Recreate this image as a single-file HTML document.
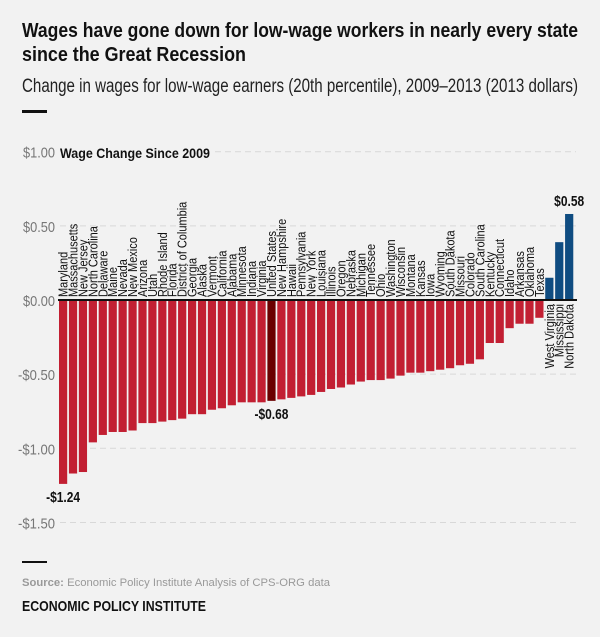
<!DOCTYPE html>
<html><head><meta charset="utf-8"><style>
body{margin:0;background:#f2f2f2;}
#wrap{position:relative;width:600px;height:637px;background:#f2f2f2;font-family:"Liberation Sans Narrow","Liberation Sans",sans-serif;overflow:hidden}
</style></head><body>
<div id="wrap">
<svg id="c" width="600" height="637" xmlns="http://www.w3.org/2000/svg">
<text x="22" y="37" font-size="20" font-weight="bold" fill="#111" textLength="556" lengthAdjust="spacingAndGlyphs">Wages have gone down for low-wage workers in nearly every state</text>
<text x="22" y="61" font-size="20" font-weight="bold" fill="#111" textLength="224" lengthAdjust="spacingAndGlyphs">since the Great Recession</text>
<text x="22" y="92" font-size="19" fill="#222" textLength="556" lengthAdjust="spacingAndGlyphs">Change in wages for low-wage earners (20th percentile), 2009–2013 (2013 dollars)</text>
<rect x="22" y="110" width="25" height="3" fill="#111"/>
<g id="grid"></g>
<g id="bars"></g>
<g id="labels"></g>
<text x="60" y="158" font-size="14" font-weight="bold" fill="#111" textLength="150" lengthAdjust="spacingAndGlyphs">Wage Change Since 2009</text>
<rect x="22" y="561" width="25" height="2" fill="#111"/>
<text x="22" y="586" font-size="11" fill="#999" textLength="308" lengthAdjust="spacingAndGlyphs"><tspan font-weight="bold">Source:</tspan> Economic Policy Institute Analysis of CPS-ORG data</text>
<text x="22" y="611" font-size="15" font-weight="bold" fill="#111" textLength="184" lengthAdjust="spacingAndGlyphs">ECONOMIC POLICY INSTITUTE</text>
</svg>
</div>
<script>
const states=["Maryland","Massachusetts","New Jersey","North Carolina","Delaware","Maine","Nevada","New Mexico","Arizona","Utah","Rhode Island","Florida","District of Columbia","Georgia","Alaska","Vermont","California","Alabama","Minnesota","Indiana","Virginia","United States","New Hampshire","Hawaii","Pennsylvania","New York","Louisiana","Illinois","Oregon","Nebraska","Michigan","Tennessee","Ohio","Washington","Wisconsin","Montana","Kansas","Iowa","Wyoming","South Dakota","Missouri","Colorado","South Carolina","Kentucky","Connecticut","Idaho","Arkansas","Oklahoma","Texas","West Virginia","Mississippi","North Dakota"];
const values=[-1.24,-1.17,-1.16,-0.96,-0.91,-0.89,-0.89,-0.88,-0.83,-0.83,-0.82,-0.81,-0.80,-0.77,-0.77,-0.74,-0.73,-0.71,-0.69,-0.69,-0.69,-0.68,-0.67,-0.66,-0.65,-0.64,-0.62,-0.60,-0.59,-0.57,-0.55,-0.54,-0.54,-0.53,-0.51,-0.49,-0.49,-0.48,-0.47,-0.46,-0.44,-0.43,-0.40,-0.29,-0.29,-0.19,-0.16,-0.16,-0.12,0.15,0.39,0.58];
const tickValues=[1,0.5,0,-0.5,-1,-1.5];
const tickLabels=["$1.00","$0.50","$0.00","-$0.50","-$1.00","-$1.50"];
const NS="http://www.w3.org/2000/svg";
const y0=300, ppd=148.3, x0=59, step=(575-59)/52, bw=8.2;
const Y=v=>y0-v*ppd;
const X=i=>x0+i*step;
function mk(t,a,p){const e=document.createElementNS(NS,t);for(const k in a)e.setAttribute(k,a[k]);p.appendChild(e);return e;}
const grid=document.getElementById('grid'),bars=document.getElementById('bars'),labels=document.getElementById('labels');
tickValues.forEach((v,i)=>{
  const neg=tickLabels[i][0]==='-';
  const t=mk('text',{x:55,y:Y(v)+6,'font-size':15,fill:'#777','text-anchor':'end',textLength:neg?37:32,lengthAdjust:'spacingAndGlyphs'},grid);
  t.textContent=tickLabels[i];
  
  
  if(v!==0){const l=mk('line',{x1:v===1?215:60,x2:576,y1:Y(v),y2:Y(v),stroke:'#d8d8d8','stroke-width':1,'stroke-dasharray':'6,4'},grid);
  
  }
});
values.forEach((v,i)=>{
  const col=v>0?'#0f4c81':(states[i]==="United States"?'#6b0000':'#c21f32');
  const r=mk('rect',{x:X(i),y:Math.min(Y(v),y0),width:bw,height:Math.abs(Y(v)-y0),fill:col},bars);
  
  
  const cx=X(i)+bw/2+4.5;
  const ly=v>0?y0+4:y0-3;
  const t=mk('text',{x:cx,y:ly,'font-size':12.5,fill:'#111','text-anchor':v>0?'end':'start',transform:`rotate(-90 ${cx} ${ly}) translate(${cx} ${ly}) scale(0.88 1) translate(${-cx} ${-ly})`},labels);
  t.textContent=states[i];
  
  
});
mk('line',{x1:58,x2:577,y1:y0,y2:y0,stroke:'#111','stroke-width':2},bars);
function ann(i,txt,above){
  const v=values[i];const t=mk('text',{x:X(i)+bw/2,y:above?Y(v)-8:Y(v)+18,'font-size':15,'font-weight':'bold',fill:'#111','text-anchor':'middle',textLength:txt[0]==='-'?34:30,lengthAdjust:'spacingAndGlyphs'},labels);
  t.textContent=txt;
  
  
}
ann(0,"-$1.24",false);ann(21,"-$0.68",false);ann(51,"$0.58",true);
</script>
</body></html>
